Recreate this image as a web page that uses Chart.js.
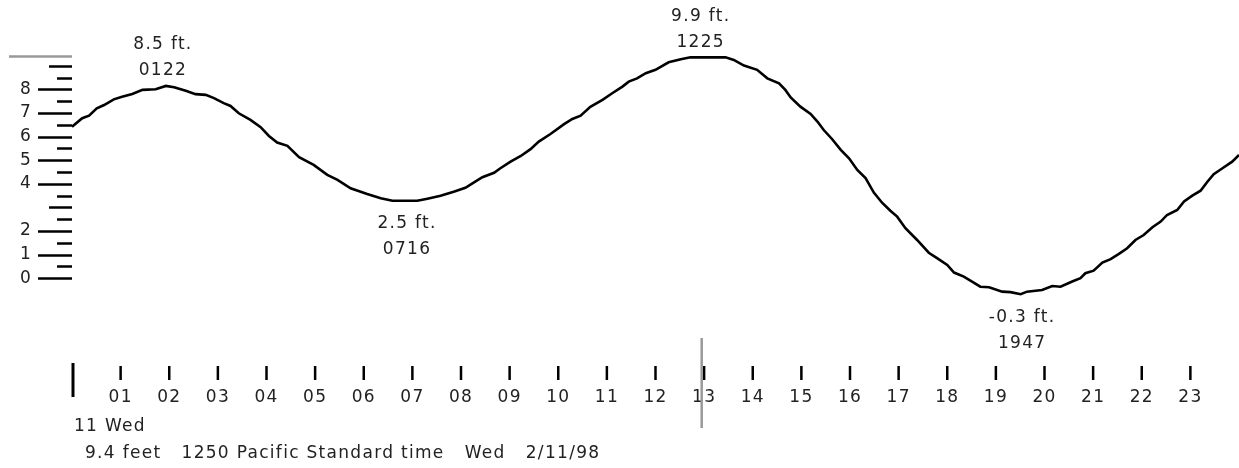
<!DOCTYPE html>
<html>
<head>
<meta charset="utf-8">
<title>Tide 2/11/98</title>
<script src="https://cdn.jsdelivr.net/npm/chart.js@4/dist/chart.umd.min.js"></script>
<style>
    html, body { margin: 0; padding: 0; background: #fff; }
    canvas { display: block; }
</style>
</head>
<body>
<canvas id="tideChart" width="1239" height="468"></canvas>
<script>
// Tide level over the day (hours since midnight, feet)
const hours = [
    0, 0.21, 0.35, 0.51, 0.66, 0.86, 1.03, 1.24, 1.45, 1.72,
    1.93, 2.10, 2.34, 2.54, 2.75, 2.92, 3.12, 3.26, 3.43, 3.67,
    3.88, 4.05, 4.22, 4.43, 4.67, 4.97, 5.25, 5.46, 5.73, 6.07,
    6.35, 6.59, 7.10, 7.31, 7.58, 7.85, 8.09, 8.26, 8.44, 8.68,
    8.81, 9.02, 9.23, 9.43, 9.60, 9.84, 10.12, 10.29, 10.46, 10.66,
    10.91, 11.11, 11.32, 11.45, 11.62, 11.80, 12.00, 12.27, 12.52, 12.72,
    13.44, 13.61, 13.82, 14.09, 14.30, 14.54, 14.67, 14.78, 14.98, 15.19,
    15.33, 15.46, 15.63, 15.81, 15.98, 16.15, 16.32, 16.49, 16.66, 16.83,
    16.97, 17.14, 17.38, 17.62, 17.79, 18.00, 18.14, 18.34, 18.51, 18.68,
    18.86, 19.13, 19.30, 19.51, 19.64, 19.95, 20.16, 20.33, 20.57, 20.74,
    20.84, 21.01, 21.19, 21.36, 21.53, 21.70, 21.87, 22.04, 22.22, 22.39,
    22.52, 22.73, 22.87, 23.04, 23.21, 23.35, 23.48, 23.66, 23.86, 24.00
];
const feet = [
    6.42, 6.78, 6.89, 7.20, 7.34, 7.58, 7.69, 7.81, 7.98, 8.01,
    8.15, 8.09, 7.94, 7.80, 7.77, 7.63, 7.42, 7.30, 6.99, 6.71,
    6.40, 6.03, 5.75, 5.61, 5.13, 4.80, 4.38, 4.17, 3.81, 3.57,
    3.39, 3.28, 3.28, 3.37, 3.49, 3.66, 3.83, 4.05, 4.28, 4.47,
    4.66, 4.94, 5.18, 5.47, 5.79, 6.11, 6.53, 6.75, 6.89, 7.26,
    7.56, 7.84, 8.12, 8.33, 8.47, 8.69, 8.83, 9.15, 9.28, 9.36,
    9.36, 9.25, 9.01, 8.83, 8.47, 8.26, 7.98, 7.66, 7.27, 6.96,
    6.64, 6.28, 5.90, 5.44, 5.08, 4.59, 4.24, 3.63, 3.20, 2.86,
    2.61, 2.12, 1.62, 1.08, 0.85, 0.56, 0.24, 0.07, -0.14, -0.36,
    -0.38, -0.57, -0.59, -0.68, -0.57, -0.50, -0.33, -0.36, -0.14, 0.00,
    0.21, 0.32, 0.66, 0.81, 1.03, 1.27, 1.62, 1.83, 2.16, 2.40,
    2.68, 2.89, 3.25, 3.50, 3.71, 4.09, 4.41, 4.66, 4.94, 5.22
];

// Hour tick labels along the bottom (01..23)
const hourLabels = ['01', '02', '03', '04', '05', '06', '07', '08', '09', '10', '11', '12',
    '13', '14', '15', '16', '17', '18', '19', '20', '21', '22', '23'];

// Feet scale: a tick every half foot, some of them labelled
const yTickValues = [0, 0.5, 1, 1.5, 2, 2.5, 3, 3.5, 4, 4.5, 5, 5.5, 6, 6.5, 7, 7.5, 8, 8.5, 9];
const yLabelled = [0, 1, 2, 4, 5, 6, 7, 8];
const yUnlabelledWhole = [3, 9];

// High / low tide notes: where they sit (hour, feet) and what they say
const extremeHours = [1.87, 6.89, 12.93, 19.54];
const extremeFeet = [8.15, 3.28, 9.36, -0.68];
const extremeKinds = ['high', 'low', 'high', 'low'];
const extremeLevels = ['8.5 ft.', '2.5 ft.', '9.9 ft.', '-0.3 ft.'];
const extremeTimes = ['0122', '0716', '1225', '1947'];

// Current reading
const currentFeet = 9.4;
const currentHour = 12.95;
const dayLabel = '11 Wed';
const statusLine = '9.4 feet   1250 Pacific Standard time   Wed   2/11/98';

const FONT = '17px "DejaVu Sans"';
const TEXT_COLOR = '#222';
const SPACING = '1.3px';

// Draws the tick marks, the gray markers and the notes
const tideDecor = {
    id: 'tideDecor',
    beforeDraw(chart) {
        chart.ctx.letterSpacing = SPACING;
    },
    afterDraw(chart) {
        const ctx = chart.ctx;
        const x = chart.scales.x;
        const y = chart.scales.y;
        const left = chart.chartArea.left;
        const bottom = chart.chartArea.bottom;

        ctx.save();
        ctx.strokeStyle = '#000';
        ctx.lineWidth = 2.5;

        // feet ticks: long where labelled, medium for 3 and 9, short on halves
        yTickValues.forEach(v => {
            let len = 15;
            if (yLabelled.includes(v)) len = 34;
            else if (yUnlabelledWhole.includes(v)) len = 23;
            const py = Math.round(y.getPixelForValue(v)) + 0.5;
            ctx.beginPath();
            ctx.moveTo(left - len, py);
            ctx.lineTo(left, py);
            ctx.stroke();
        });

        // hour ticks
        for (let h = 1; h <= 23; h++) {
            const px = x.getPixelForValue(h);
            ctx.beginPath();
            ctx.moveTo(px, bottom);
            ctx.lineTo(px, bottom + 14);
            ctx.stroke();
        }
        // start-of-day mark
        ctx.lineWidth = 3;
        const px0 = x.getPixelForValue(0) + 1;
        ctx.beginPath();
        ctx.moveTo(px0, bottom - 3);
        ctx.lineTo(px0, bottom + 31);
        ctx.stroke();

        // current level and current time markers
        ctx.strokeStyle = '#999';
        ctx.lineWidth = 2.5;
        const levelY = y.getPixelForValue(currentFeet);
        ctx.beginPath();
        ctx.moveTo(9, levelY);
        ctx.lineTo(left, levelY);
        ctx.stroke();
        const nowX = x.getPixelForValue(currentHour);
        ctx.beginPath();
        ctx.moveTo(nowX, bottom - 28);
        ctx.lineTo(nowX, bottom + 62);
        ctx.stroke();

        // high / low notes
        ctx.font = FONT;
        ctx.fillStyle = TEXT_COLOR;
        ctx.textAlign = 'center';
        ctx.textBaseline = 'middle';
        extremeHours.forEach((h, i) => {
            const cx = x.getPixelForValue(h);
            const cy = y.getPixelForValue(extremeFeet[i]);
            if (extremeKinds[i] === 'high') {
                ctx.fillText(extremeLevels[i], cx, cy - 41);
                ctx.fillText(extremeTimes[i], cx, cy - 15);
            } else {
                ctx.fillText(extremeLevels[i], cx, cy + 23);
                ctx.fillText(extremeTimes[i], cx, cy + 49);
            }
        });

        // footer
        ctx.textAlign = 'left';
        ctx.textBaseline = 'top';
        ctx.fillText(dayLabel, 74, bottom + 52);
        ctx.fillText(statusLine, 85, bottom + 79);
        ctx.restore();
    }
};

// keep the plot area flush with the axes (no label overhang padding)
function noPadding(scale) {
    scale.paddingTop = 0;
    scale.paddingBottom = 0;
    scale.paddingLeft = 0;
    scale.paddingRight = 0;
}

const ctx = document.getElementById('tideChart').getContext('2d');

new Chart(ctx, {
    type: 'line',
    data: {
        datasets: [{
            data: hours.map((h, i) => ({ x: h, y: feet[i] })),
            borderColor: '#000',
            borderWidth: 2.6,
            pointRadius: 0,
            tension: 0,
            fill: false
        }]
    },
    options: {
        responsive: false,
        animation: false,
        devicePixelRatio: 1,
        layout: { padding: 0 },
        plugins: {
            legend: { display: false },
            tooltip: { enabled: false },
            title: { display: false }
        },
        scales: {
            x: {
                type: 'linear',
                position: 'bottom',
                min: 0,
                max: 24,
                afterFit: scale => { scale.height = 102; noPadding(scale); },
                border: { display: false },
                grid: {
                    color: 'rgba(0,0,0,0)',
                    drawOnChartArea: false,
                    tickLength: 14
                },
                ticks: {
                    stepSize: 1,
                    autoSkip: false,
                    maxRotation: 0,
                    padding: 7,
                    color: TEXT_COLOR,
                    font: { family: 'DejaVu Sans', size: 17 },
                    callback: v => (v >= 1 && v <= 23) ? hourLabels[v - 1] : ''
                }
            },
            y: {
                type: 'linear',
                position: 'left',
                min: -3.72,
                max: 11.79,
                afterFit: scale => { scale.width = 72; noPadding(scale); },
                afterBuildTicks: scale => {
                    scale.ticks = yTickValues.map(v => ({ value: v }));
                },
                border: { display: false },
                grid: {
                    color: 'rgba(0,0,0,0)',
                    drawOnChartArea: false,
                    tickLength: 34
                },
                ticks: {
                    autoSkip: false,
                    padding: 6,
                    color: TEXT_COLOR,
                    font: { family: 'DejaVu Sans', size: 17 },
                    callback: v => yLabelled.includes(v) ? String(v) : ''
                }
            }
        }
    },
    plugins: [tideDecor]
});
</script>
</body>
</html>
